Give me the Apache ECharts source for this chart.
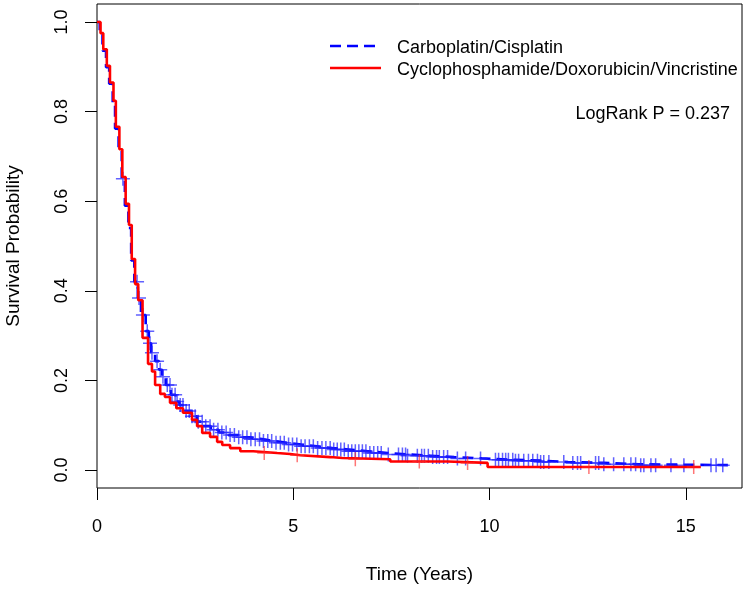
<!DOCTYPE html>
<html><head><meta charset="utf-8">
<script src="https://cdn.jsdelivr.net/npm/echarts@6/dist/echarts.min.js"></script>
<style>html,body{margin:0;padding:0;background:#fff}#c{width:750px;height:590px}</style>
</head><body><div id="c"></div>
<script>
// ---- data ----
const seriesNames = ['Carboplatin/Cisplatin', 'Cyclophosphamide/Doxorubicin/Vincristine'];
const pValueText = 'LogRank P = 0.237';
const xTicks = [0, 5, 10, 15];
const yTicks = [0, 0.2, 0.4, 0.6, 0.8, 1.0];
const xTitle = 'Time (Years)';
const yTitle = 'Survival Probability';

// Carboplatin/Cisplatin step function
const blueTimes = [0, 0.07, 0.14, 0.23, 0.31, 0.40, 0.46, 0.55, 0.63, 0.71, 0.80, 0.87, 0.95, 1.04, 1.12, 1.24, 1.32, 1.38, 1.48, 1.58, 1.66, 1.75, 1.88, 2.0, 2.1, 2.25, 2.4, 2.55, 2.7, 2.9, 3.1, 3.35, 3.6, 3.9, 4.2, 4.5, 4.85, 5.2, 5.6, 6.0, 6.4, 6.9, 7.4, 7.9, 8.5, 9.1, 9.8, 10.6, 11.3, 12.0, 12.9, 13.8];
const blueSurv  = [1.0, 0.972, 0.936, 0.899, 0.862, 0.82, 0.762, 0.712, 0.65, 0.59, 0.54, 0.468, 0.42, 0.384, 0.346, 0.31, 0.283, 0.262, 0.243, 0.224, 0.208, 0.19, 0.168, 0.153, 0.145, 0.132, 0.12, 0.108, 0.098, 0.09, 0.084, 0.078, 0.073, 0.069, 0.065, 0.061, 0.057, 0.053, 0.049, 0.046, 0.042, 0.038, 0.035, 0.032, 0.029, 0.026, 0.023, 0.021, 0.018, 0.016, 0.013, 0.011];
const blueEnd = 16.07;
const blueCensor = [0.66, 1.02, 1.07, 1.17, 1.28, 1.35, 1.40, 1.53, 1.61, 1.68, 1.79, 1.86, 1.91, 1.99, 2.04, 2.12, 2.19, 2.27, 2.35, 2.42, 2.50, 2.58,
  2.68, 2.77, 2.88, 2.97, 3.08, 3.18, 3.29, 3.39, 3.50, 3.61, 3.71, 3.82, 3.92, 4.03, 4.14, 4.24, 4.35, 4.45, 4.56, 4.67, 4.77, 4.88, 4.98, 5.09, 5.20, 5.30, 5.41, 5.51, 5.62, 5.73, 5.83, 5.94, 6.03, 6.12, 6.21, 6.30, 6.40, 6.49, 6.58, 6.67, 6.76, 6.85, 6.95, 7.05, 7.15, 7.24,
  7.42, 7.68, 7.78, 7.86, 7.91, 8.16, 8.27, 8.34, 8.44, 8.55, 8.65, 8.72, 8.83, 8.93, 9.18, 9.39, 9.77,
  10.15, 10.23, 10.33, 10.41, 10.48, 10.59, 10.66, 10.74, 10.87, 10.99, 11.10, 11.22, 11.30, 11.38, 11.51, 11.89, 12.12, 12.24, 12.32, 12.70, 12.78, 12.91, 13.16,
  13.42, 13.60, 13.72, 13.85, 13.93, 14.11, 14.23, 14.62, 14.95, 15.64, 15.77, 15.94];

// Cyclophosphamide/Doxorubicin/Vincristine step function
const redTimes = [0, 0.09, 0.16, 0.25, 0.33, 0.42, 0.48, 0.57, 0.645, 0.73, 0.815, 0.885, 0.97, 1.05, 1.16, 1.30, 1.40, 1.48, 1.61, 1.73, 1.86, 2.02, 2.19, 2.42, 2.55, 2.68, 2.88, 3.06, 3.19, 3.39, 3.65, 3.98, 4.59, 4.92, 5.18, 5.94, 6.25, 7.47, 8.93, 9.95];
const redSurv  = [1.0, 0.975, 0.939, 0.902, 0.865, 0.824, 0.766, 0.716, 0.654, 0.594, 0.547, 0.471, 0.415, 0.379, 0.295, 0.237, 0.22, 0.19, 0.17, 0.163, 0.15, 0.138, 0.128, 0.112, 0.098, 0.083, 0.074, 0.063, 0.056, 0.049, 0.042, 0.038, 0.036, 0.033, 0.029, 0.027, 0.024, 0.019, 0.016, 0.007];
const redEnd = 15.38;
const redCensor = [4.26, 5.10, 6.58, 8.21, 9.44, 12.53, 15.20];

// ---- helpers ----
function stepLine(times, surv, end) {
  const d = times.map((t, i) => [t, surv[i]]);
  d.push([end, surv[surv.length - 1]]);
  return d;
}
function survAt(times, surv, t) {
  let v = surv[0];
  for (let i = 0; i < times.length; i++) { if (times[i] <= t) v = surv[i]; else break; }
  return v;
}
const FONT = "'Liberation Sans', Arial, Helvetica, sans-serif";
const plusPath = 'path://M6.25,0H7.75V14H6.25Z M0,6.25H14V7.75H0Z';

const chart = echarts.init(document.getElementById('c'), null, { renderer: 'canvas' });
chart.setOption({
  animation: false,
  backgroundColor: '#fff',
  textStyle: { fontFamily: FONT },
  grid: { left: 97, right: 8, top: 4, bottom: 102, containLabel: false, outerBoundsMode: 'none',
    show: true, borderColor: '#000', borderWidth: 1, backgroundColor: 'transparent' },
  xAxis: {
    type: 'value', min: 0, max: 16.43,
    axisLine: { show: false, onZero: false },
    splitLine: { show: false },
    axisTick: { show: true, inside: false, length: 12, lineStyle: { color: '#000', width: 1 }, customValues: xTicks },
    axisLabel: { show: true, customValues: xTicks, margin: 30, color: '#000', fontSize: 18, fontFamily: FONT, formatter: v => String(v) },
    name: xTitle, nameLocation: 'middle', nameGap: 77,
    nameTextStyle: { color: '#000', fontSize: 19, fontFamily: FONT }
  },
  yAxis: {
    type: 'value', min: -0.04, max: 1.04,
    axisLine: { show: false, onZero: false },
    splitLine: { show: false },
    axisTick: { show: true, inside: false, length: 12, lineStyle: { color: '#000', width: 1 }, customValues: yTicks },
    axisLabel: { show: true, customValues: yTicks, rotate: 90, margin: 26, color: '#000', fontSize: 18, fontFamily: FONT, formatter: v => v.toFixed(1) },
    name: yTitle, nameLocation: 'middle', nameGap: 74, nameRotate: 90,
    nameTextStyle: { color: '#000', fontSize: 19, fontFamily: FONT }
  },
  series: [
    { name: seriesNames[0], type: 'line', step: 'end', showSymbol: false, symbol: 'none', silent: true,
      data: stepLine(blueTimes, blueSurv, blueEnd),
      lineStyle: { color: '#0000ff', width: 2.6, type: [11, 6] }, z: 2 },
    { name: seriesNames[0] + ' censored', type: 'scatter', silent: true, symbol: plusPath, symbolSize: 14,
      data: blueCensor.map(t => [t, survAt(blueTimes, blueSurv, t)]),
      itemStyle: { color: 'rgba(30,30,255,0.88)' }, z: 3 },
    { name: seriesNames[1], type: 'line', step: 'end', showSymbol: false, symbol: 'none', silent: true,
      data: stepLine(redTimes, redSurv, redEnd),
      lineStyle: { color: '#ff0000', width: 2.6 }, z: 4 },
    { name: seriesNames[1] + ' censored', type: 'scatter', silent: true, symbol: plusPath, symbolSize: 14,
      data: redCensor.map(t => [t, survAt(redTimes, redSurv, t)]),
      itemStyle: { color: 'rgba(255,40,40,0.8)' }, z: 5 }
  ],
  graphic: [
    { type: 'line', shape: { x1: 330, y1: 46, x2: 381, y2: 46 }, style: { stroke: '#0000ff', lineWidth: 2.6, lineDash: [11, 6] } },
    { type: 'line', shape: { x1: 330, y1: 68, x2: 381, y2: 68 }, style: { stroke: '#ff0000', lineWidth: 2.6 } },
    { type: 'text', x: 397, y: 48, style: { text: seriesNames[0], fill: '#000', font: '18px ' + FONT, textVerticalAlign: 'middle', verticalAlign: 'middle' } },
    { type: 'text', x: 397, y: 70, style: { text: seriesNames[1], fill: '#000', font: '18px ' + FONT, textVerticalAlign: 'middle', verticalAlign: 'middle' } },
    { type: 'text', x: 730, y: 114, style: { text: pValueText, fill: '#000', font: '18px ' + FONT, align: 'right', textAlign: 'right', verticalAlign: 'middle', textVerticalAlign: 'middle' } }
  ]
});
</script>
</body></html>
